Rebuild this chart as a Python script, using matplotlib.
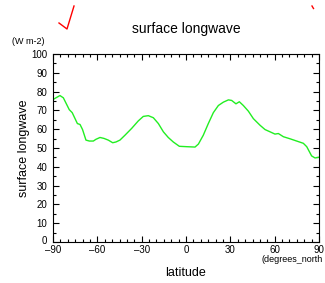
import matplotlib.pyplot as plt
import matplotlib.transforms as mtransforms
from matplotlib.ticker import MultipleLocator
from matplotlib.lines import Line2D

# Data
lat = [-89.3, -85.3, -83, -79, -77, -73.5, -71.7, -70, -67.7, -65.4, -62.7, -61, -58.2,
       -55.5, -52.6, -49.6, -47.4, -44.7, -41.3, -36.8, -32.3, -28.9, -25.5, -22.1,
       -18.7, -15.3, -12, -8.6, -4.5, 0.5, 6.1, 8.4, 11.7, 15.1, 18.5, 21.9, 25.3,
       28.7, 30.9, 33.8, 36.1, 38.8, 42.2, 45.6, 50.1, 53.5, 56.9, 60.2, 62.5, 65.9,
       70.4, 74.9, 79.4, 81.7, 85, 87.3, 90]
lw_flux = [76.1, 77.9, 76.7, 70.4, 68.8, 63, 62.5, 59.8, 54.2, 53.7, 53.7, 54.6, 55.6,
           55.1, 54.2, 52.8, 53.2, 54.2, 56.8, 60.4, 64.4, 66.8, 67.2, 66.1,
           63, 58.6, 55.6, 53.2, 50.9, 50.7, 50.5, 52.1, 56.8, 63, 68.8, 72.6, 74.4,
           75.6, 75.3, 73.5, 74.6, 72.6, 69.6, 65.6, 62.1, 59.8, 58.6, 57.4, 57.7, 56,
           54.9, 53.7, 52.5, 50.7, 45.8, 44.7, 45.1]
xticks = [-90, -60, -30, 0, 30, 60, 90]
xticklabels = ['-90', '-60', '-30', '0', '30', '60', '90']
yticks = list(range(0, 101, 10))

plt.rcParams['font.family'] = 'Liberation Sans'

fig = plt.figure(figsize=(3.25, 2.83), dpi=100)
ax = fig.add_axes([53 / 325, 1 - 242 / 283, 266 / 325, 188 / 283])

ax.plot(lat, lw_flux, color='#22ee22', linewidth=1.0)

ax.set_xlim(-90, 90)
ax.set_ylim(0, 100)
ax.set_xticks(xticks)
ax.set_xticklabels([t.replace('-', '\u2013') for t in xticklabels])
ax.set_yticks(yticks)
ax.xaxis.set_minor_locator(MultipleLocator(5))
ax.yaxis.set_minor_locator(MultipleLocator(5))
ax.tick_params(which='both', direction='in', top=True, right=True, labelsize=7)
ax.tick_params(axis='x', pad=2.5)
ax.tick_params(axis='y', pad=4)
ax.tick_params(which='major', length=4, width=0.8)
ax.tick_params(which='minor', length=2, width=0.8)

# nudge the y "0" label up a little so it clears the x labels
lbl0 = ax.get_yticklabels()[0]
lbl0.set_transform(lbl0.get_transform() + mtransforms.ScaledTranslation(0, 2 / 100, fig.dpi_scale_trans))

ax.set_xlabel('latitude', fontsize=9, labelpad=8.5)
ax.set_ylabel('surface longwave', fontsize=9, labelpad=1)

fig.text(186 / 325, 1 - 29 / 283, 'surface longwave', ha='center', va='center', fontsize=10)
fig.text(12 / 325, 1 - 41 / 283, '(W m-2)', ha='left', va='center', fontsize=6.5)
fig.text(323 / 325, 1 - 260 / 283, '(degrees_north', ha='right', va='center', fontsize=6.5)

# red marks at the top
fig.add_artist(Line2D([59 / 325, 67 / 325, 74 / 325], [1 - 23 / 283, 1 - 29 / 283, 1 - 6 / 283],
                      transform=fig.transFigure, color='red', linewidth=1.0))
fig.add_artist(Line2D([312 / 325, 313.5 / 325], [1 - 6 / 283, 1 - 8.5 / 283],
                      transform=fig.transFigure, color='red', linewidth=1.0))

plt.savefig('out.png', dpi=100)
